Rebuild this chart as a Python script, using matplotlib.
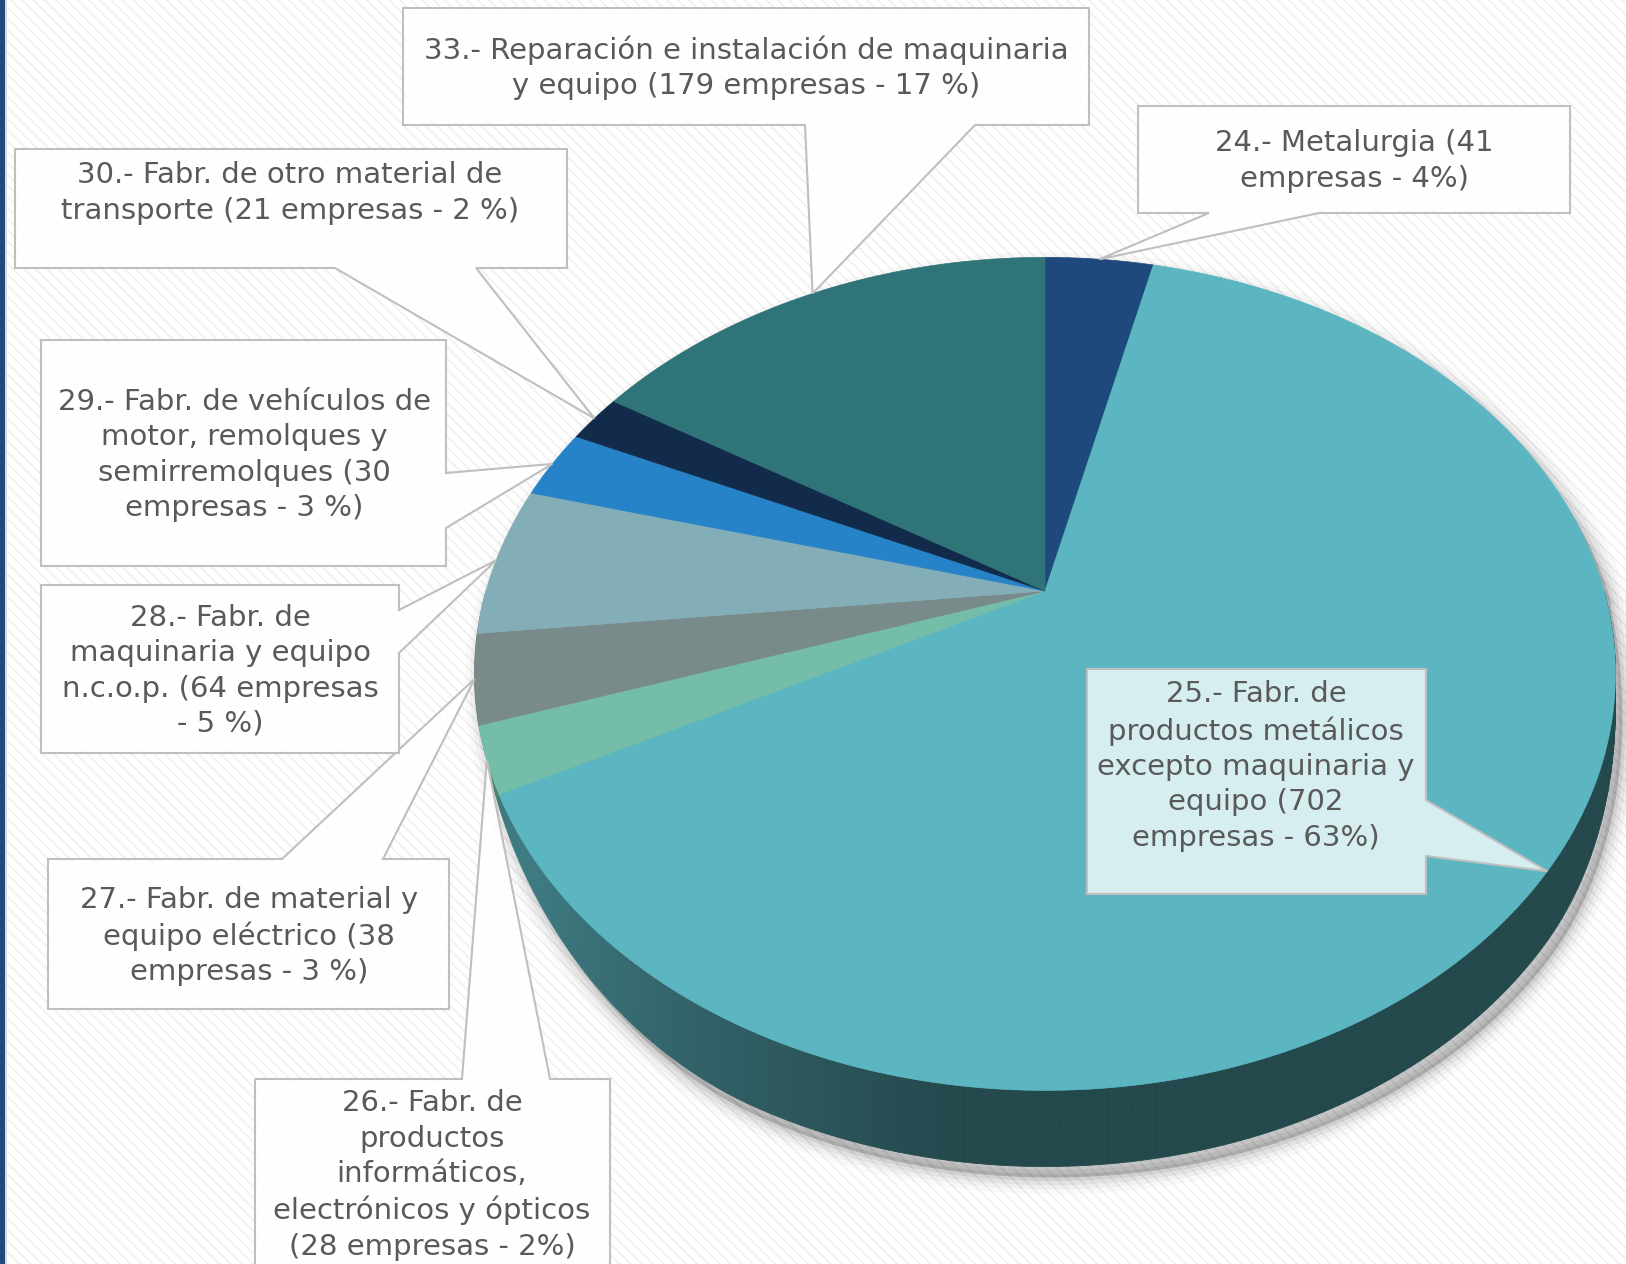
import numpy as np
import matplotlib.pyplot as plt
from matplotlib.patches import Polygon, Rectangle
from matplotlib.colors import to_rgb

plt.rcParams["font.family"] = ["DejaVu Sans"]

# --- data ---
codes = ["24", "25", "26", "27", "28", "29", "30", "33"]
empresas = [41, 702, 28, 38, 64, 30, 21, 179]
labels = [
    "24.- Metalurgia (41\nempresas - 4%)",
    "25.- Fabr. de\nproductos metálicos\nexcepto maquinaria y\nequipo (702\nempresas - 63%)",
    "26.- Fabr. de\nproductos\ninformáticos,\nelectrónicos y ópticos\n(28 empresas - 2%)",
    "27.- Fabr. de material y\nequipo eléctrico (38\nempresas - 3 %)",
    "28.- Fabr. de\nmaquinaria y equipo\nn.c.o.p. (64 empresas\n- 5 %)",
    "29.- Fabr. de vehículos de\nmotor, remolques y\nsemirremolques (30\nempresas - 3 %)",
    "30.- Fabr. de otro material de\ntransporte (21 empresas - 2 %)",
    "33.- Reparación e instalación de maquinaria\ny equipo (179 empresas - 17 %)",
]
colors = ["#1F497D", "#5BB6C1", "#74BDA8", "#798A8B",
          "#84AEB7", "#2783C8", "#132B4A", "#2F7479"]

# callout boxes: x0, y0, x1, y1, side of pointer, pointer base a, b, text centre
boxes = [
    (1138, 106, 1570, 213, "bottom", 1209, 1319, (1354, 161)),
    (1087, 669, 1426, 894, "right", 800, 856, (1256, 766)),
    (255, 1079, 610, 1300, "top", 462, 550, (432, 1175)),
    (48, 859, 449, 1009, "top", 282, 383, (249, 936)),
    (41, 585, 399, 753, "right", 610, 653, (220, 671)),
    (41, 340, 446, 566, "right", 473, 528, (244, 455)),
    (15, 149, 567, 268, "bottom", 335, 476, (290, 193)),
    (403, 8, 1089, 125, "bottom", 805, 975, (746, 68)),
]
box_fill = ["white", "#D6EEF0", "white", "white", "white", "white", "white", "white"]

W, H = 1626, 1264
CX, CY, RX, RY, K = 1045, 591, 559, 400, 0.199
DEPTH = 61


def proj(theta, drop=0.0):
    t = np.radians(theta)
    u, v = np.cos(t), np.sin(t)
    f = 1.0 / (1.0 + K * v)
    return CX + RX * u * f, CY - RY * v * f + drop * f


def wall_drop(theta):
    # wall height fades out towards the left and right rims
    left = np.clip((theta - 203) / 42.0, 0, 1)
    right = np.clip((362 - theta) / 40.0, 0, 1)
    g = min(left, right)
    return DEPTH * (3 * g ** 2 - 2 * g ** 3) ** 0.5


def shade(theta):
    g = np.clip((262 - theta) / 45.0, 0, 1)
    return 0.40 + 0.27 * g


fig = plt.figure(figsize=(W / 100, H / 100), dpi=100)
ax = fig.add_axes([0, 0, 1, 1])
ax.set_xlim(0, W)
ax.set_ylim(H, 0)
ax.axis("off")

# background with fine diagonal stripes
plt.rcParams["hatch.linewidth"] = 1.2
ax.add_patch(Rectangle((0, 0), W, H, facecolor="white", edgecolor="#f0f0f0",
                       hatch="\\\\\\", lw=0, zorder=0))
ax.add_patch(Rectangle((0, 0), 5, H, facecolor="#1F497D", lw=0, zorder=0.5))
ax.add_patch(Rectangle((5, 0), 1.5, H, facecolor="#d4dbe3", lw=0, zorder=0.5))

# slice angles, clockwise from 12 o'clock
vals = np.array(empresas, dtype=float)
cum = np.concatenate([[0], np.cumsum(vals)]) / vals.sum() * 360
starts = 90 - cum[:-1]
ends = 90 - cum[1:]

# soft shadow under the pie
th_top = np.linspace(0, 180, 200)
th_bot = np.linspace(180, 360, 200)
sil = [proj(t) for t in th_top] + [proj(t, wall_drop(t)) for t in th_bot]
sil = np.array(sil) + [7, 11]
for lw, a in [(24, 0.025), (17, 0.035), (11, 0.05), (5, 0.07)]:
    ax.add_patch(Polygon(sil, closed=True, fill=False, edgecolor="black",
                         lw=lw, alpha=a, joinstyle="round", zorder=1))
ax.add_patch(Polygon(sil, closed=True, facecolor="black", alpha=0.18, lw=0, zorder=1))


def slice_of(theta):
    for i, (s, e) in enumerate(zip(starts, ends)):
        for t in (theta, theta - 360):
            if e <= t <= s:
                return i
    return 0


# side wall of the front half
wall_th = np.linspace(180, 360, 361)
for t0, t1 in zip(wall_th[:-1], wall_th[1:]):
    tm = 0.5 * (t0 + t1)
    c = np.array(to_rgb(colors[slice_of(tm)])) * shade(tm)
    quad = [proj(t0), proj(t1), proj(t1, wall_drop(t1)), proj(t0, wall_drop(t0))]
    ax.add_patch(Polygon(quad, closed=True, facecolor=c, edgecolor=c, lw=0.6, zorder=2))

# top face
for s, e, col in zip(starts, ends, colors):
    arc = np.linspace(s, e, max(int(abs(s - e) * 2), 3))
    pts = [(CX, CY)] + [proj(t) for t in arc]
    ax.add_patch(Polygon(pts, closed=True, facecolor=col, edgecolor=col, lw=0.5, zorder=3))

# callouts
for (x0, y0, x1, y1, side, a, b, tc), s, e, fc, lab in zip(boxes, starts, ends, box_fill, labels):
    tip = proj(0.5 * (s + e))
    pts = [(x0, y0)]
    if side == "top":
        pts += [(a, y0), tip, (b, y0)]
    pts.append((x1, y0))
    if side == "right":
        pts += [(x1, a), tip, (x1, b)]
    pts.append((x1, y1))
    if side == "bottom":
        pts += [(b, y1), tip, (a, y1)]
    pts.append((x0, y1))
    ax.add_patch(Polygon(pts, closed=True, facecolor=fc, alpha=0.85 if fc == "white" else 1,
                         lw=0, zorder=4))
    ax.add_patch(Polygon(pts, closed=True, fill=False, edgecolor="#BFBFBF", lw=1.5, zorder=4))
    ax.text(tc[0], tc[1], lab, ha="center", va="center", multialignment="center",
            fontsize=21, color="#595959", linespacing=1.33, zorder=5)

fig.savefig("out.png", dpi=100)
